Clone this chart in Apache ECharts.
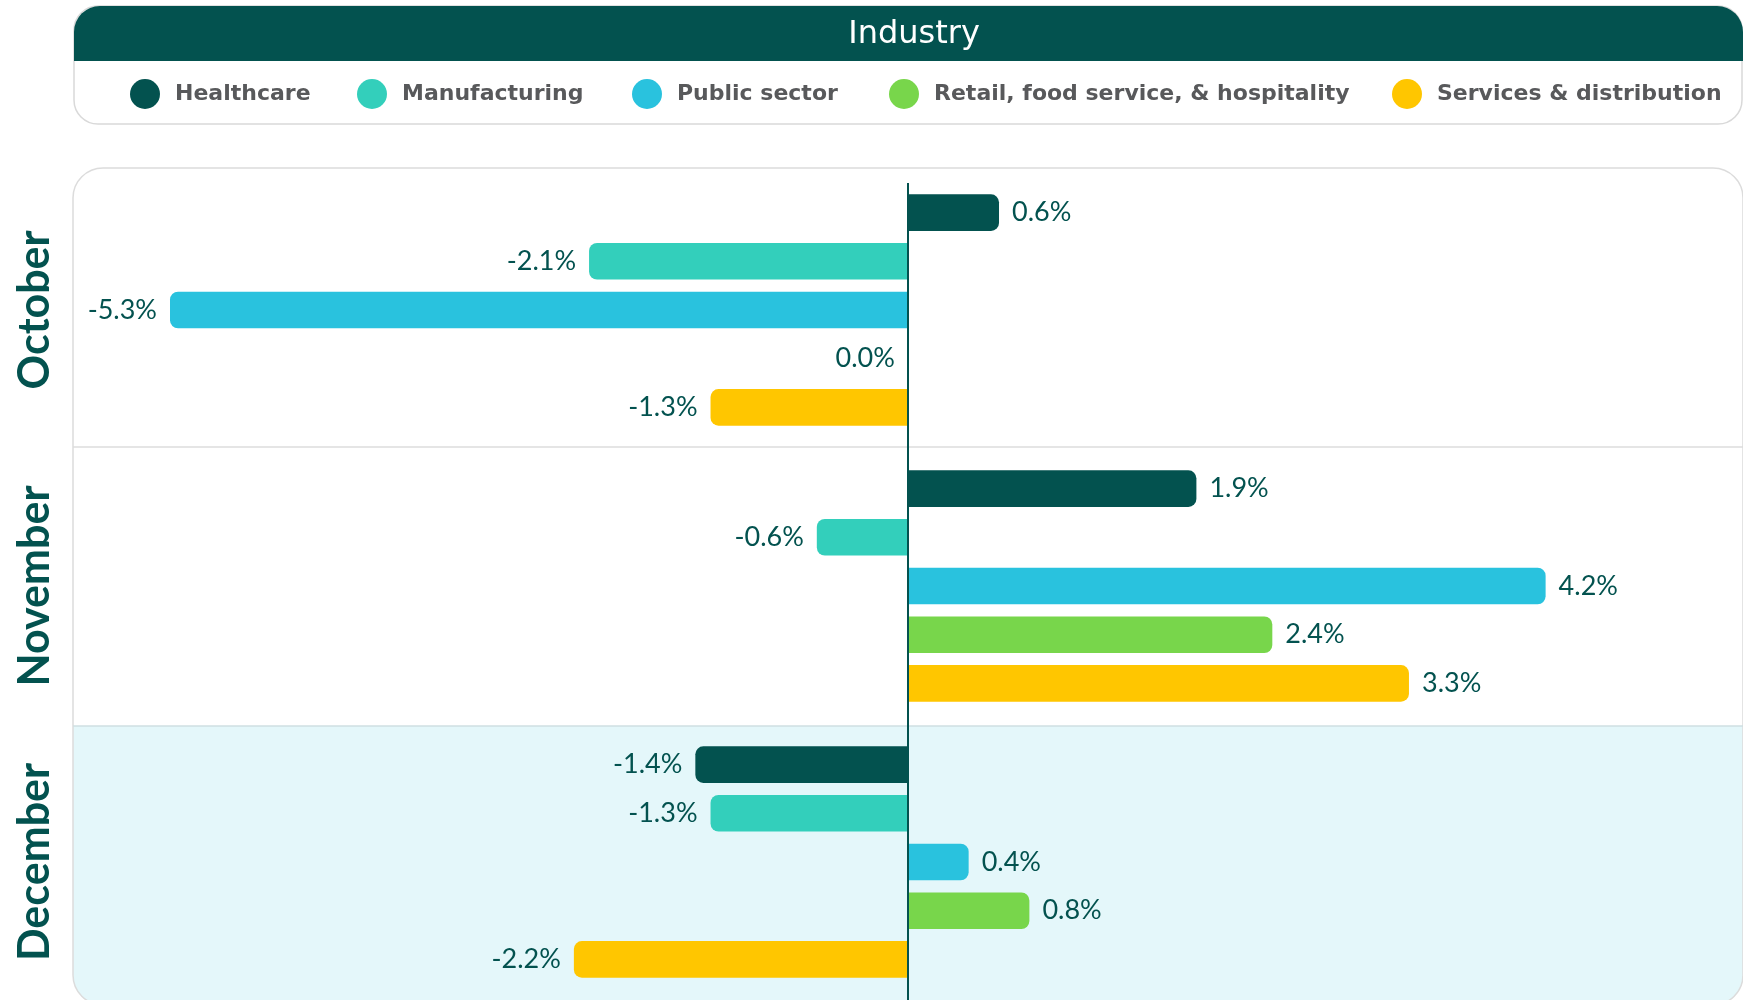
<!DOCTYPE html>
<html>
<head>
<meta charset="utf-8">
<title>Industry</title>
<script src="https://cdn.jsdelivr.net/npm/echarts@6/dist/echarts.min.js"></script>
<style>
	html, body { margin: 0; padding: 0; background: #fff; }
	#Main { width: 1743px; height: 1000px; }
</style>
</head>
<body>
<div id="Main"></div>
<script>
// 数据
var months = ['October', 'November', 'December'];
var industries = ['Healthcare', 'Manufacturing', 'Public sector', 'Retail, food service, & hospitality', 'Services & distribution'];
var healthcare = [0.6, 1.9, -1.4];
var manufacturing = [-2.1, -0.6, -1.3];
var publicSector = [-5.3, 4.2, 0.4];
var retail = [0.0, 2.4, 0.8];
var services = [-1.3, 3.3, -2.2];
var seriesValues = [healthcare, manufacturing, publicSector, retail, services];
var colors = ['#03524f', '#33cfbb', '#29c2de', '#78d64b', '#ffc600'];

// 布局
var dark = '#03524f';
var panelTop = 168, bandH = 279;
var gridTop = 172;
var legendLeft = [125, 352, 627, 884, 1387];

function buildData(vals) {
	return vals.map(function(v) {
		return {
			value: v,
			label: { position: v > 0 ? 'right' : 'left' },
			itemStyle: { borderRadius: v > 0 ? [0, 8, 8, 0] : [8, 0, 0, 8] }
		};
	});
}

var series = industries.map(function(name, i) {
	var s = {
		name: name,
		type: 'bar',
		barWidth: 36.6,
		barGap: '33%',
		itemStyle: { color: colors[i] },
		label: {
			show: true,
			distance: 13,
			color: dark,
			fontFamily: 'Lato',
			fontSize: 27,
			formatter: function(p) { return p.value.toFixed(1) + '%'; }
		},
		data: buildData(seriesValues[i])
	};
	if (i == 0) {
		//零线
		s.markLine = {
			silent: true,
			symbol: ['none', 'none'],
			label: { show: false },
			lineStyle: { color: dark, width: 2, type: 'solid' },
			data: [[
				{ xAxis: 0, yAxis: months[0], y: 183 },
				{ xAxis: 0, yAxis: months[months.length - 1], y: 1000 }
			]]
		};
	}
	return s;
});

var legends = industries.map(function(name, i) {
	return {
		data: [name],
		left: legendLeft[i],
		top: 74,
		icon: 'circle',
		itemWidth: 50,
		itemHeight: 30,
		selectedMode: false,
		textStyle: { color: '#58595b', fontFamily: 'DejaVu Sans', fontWeight: 'bold', fontSize: 22 }
	};
});

var graphics = [
	// legend box + header
	{ type: 'rect', z: 0, shape: { x: 74, y: 6, width: 1668, height: 118, r: 24 }, style: { fill: '#fff', stroke: '#d9d9d9', lineWidth: 1.5 } },
	{ type: 'rect', z: 0, shape: { x: 74, y: 6, width: 1669, height: 55, r: [26, 26, 0, 0] }, style: { fill: dark } },
	// panel
	{ type: 'rect', z: 0, shape: { x: 73, y: panelTop, width: 1670, height: bandH * 3, r: 30 }, style: { fill: '#fff' } },
	{ type: 'rect', z: 0, shape: { x: 73, y: panelTop + bandH * 2, width: 1670, height: bandH, r: [0, 0, 30, 30] }, style: { fill: '#e4f7fa' } },
	{ type: 'rect', z: 0, shape: { x: 73, y: panelTop, width: 1670, height: bandH * 3, r: 30 }, style: { fill: null, stroke: '#dcdcdc', lineWidth: 1.5 } },
	{ type: 'line', z: 0, shape: { x1: 73, y1: panelTop + bandH, x2: 1743, y2: panelTop + bandH }, style: { stroke: '#dcdcdc', lineWidth: 1.5 } },
	{ type: 'line', z: 0, shape: { x1: 73, y1: panelTop + bandH * 2, x2: 1743, y2: panelTop + bandH * 2 }, style: { stroke: '#cfdfe2', lineWidth: 1.5 } }
];

var myChart = echarts.init(document.getElementById('Main'));
myChart.setOption({
	animation: false,
	title: {
		text: 'Industry',
		left: 909,
		top: 14,
		textAlign: 'center',
		textStyle: { color: '#fff', fontFamily: 'DejaVu Sans', fontWeight: 'normal', fontSize: 32 }
	},
	legend: legends,
	graphic: graphics,
	grid: { left: 170, right: 0, top: gridTop, height: bandH * 3, containLabel: false },
	xAxis: {
		type: 'value',
		min: -4.86,
		max: 5.5,
		show: false,
		splitLine: { show: false }
	},
	yAxis: {
		type: 'category',
		data: months,
		inverse: true,
		axisLine: { show: false },
		axisTick: { show: false },
		splitLine: { show: false },
		axisLabel: {
			interval: 0,
			rotate: 90,
			margin: 113,
			color: dark,
			fontFamily: 'Lato',
			fontWeight: 'bold',
			fontSize: 43
		}
	},
	series: series
});
</script>
</body>
</html>
